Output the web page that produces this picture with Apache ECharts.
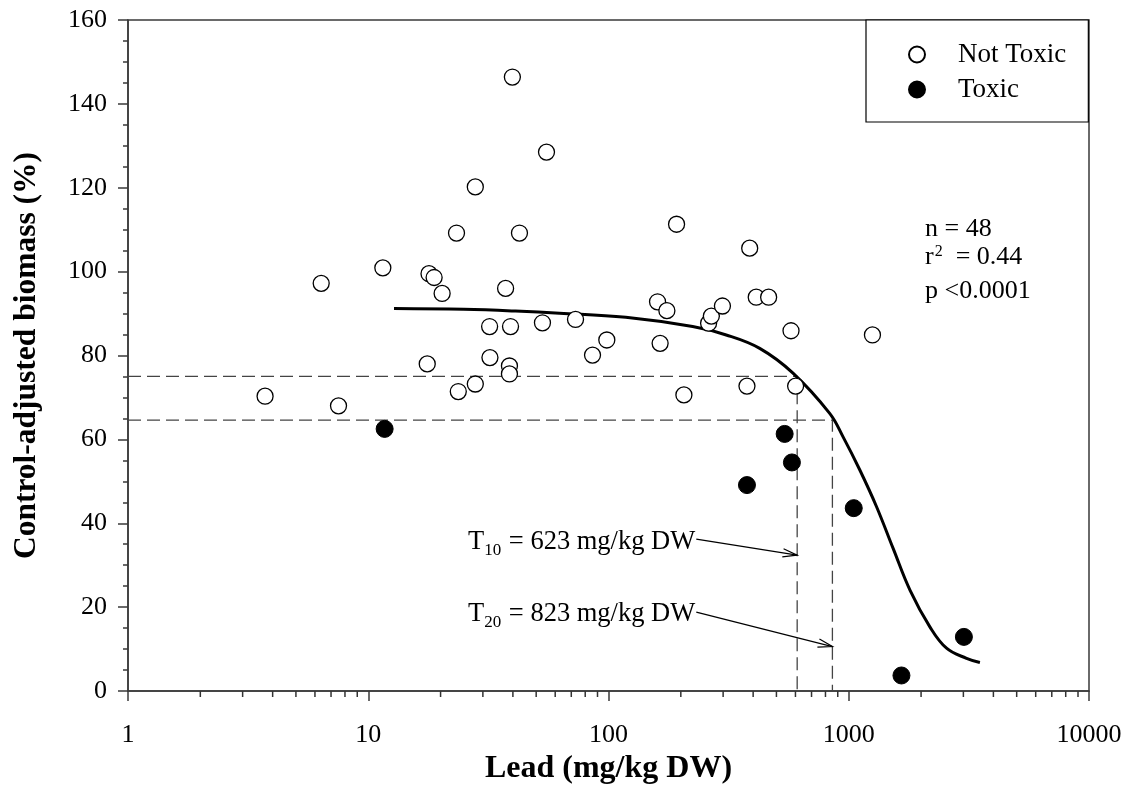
<!DOCTYPE html>
<html>
<head>
<meta charset="utf-8">
<script src="https://cdn.jsdelivr.net/npm/echarts@6/dist/echarts.min.js"></script>
<style>html,body{margin:0;padding:0;background:#fff;}#c{width:1128px;height:809px;}</style>
</head>
<body>
<div id="c"></div>
<script>
// ---- data ----
const notToxic = [
  [3.72,70.3],[6.37,97.2],[7.52,68.0],[11.5,100.9],[17.6,78.0],[17.9,99.5],[18.8,98.6],
  [20.3,94.8],[23.3,109.2],[23.7,71.4],[27.9,120.2],[27.9,73.2],[32.0,86.9],[32.1,79.5],
  [37.3,96.0],[38.7,77.5],[38.7,75.6],[39.1,86.9],[39.8,146.4],[42.6,109.2],[53.1,87.8],
  [55.2,128.5],[72.9,88.6],[85.8,80.1],[98.4,83.7],[160,92.8],[164,82.9],[175,90.7],
  [192,111.3],[206,70.6],[261,87.7],[268,89.4],[298,91.8],[377,72.7],[387,105.6],
  [412,93.9],[464,93.9],[575,85.9],[601,72.7],[1255,84.9]
];
const toxic = [
  [11.7,62.5],[377,49.1],[541,61.3],[580,54.5],[1049,43.6],[1657,3.7],[3015,12.9]
];
const fitCurve = [
  [12.8,91.2],[25,91.0],[41,90.6],[62.5,90.1],[118,89.1],[224,86.9],[309,84.9],[426,81.7],
  [586,75.8],[833,66.2],[947,60.6],[1112,52.7],[1304,44.0],[1530,34.0],[1800,24.0],
  [2176,15.3],[2553,10.2],[3092,7.8],[3515,6.8]
];
const t10Guide = [[1,75.0],[610,75.0],[610,0]];
const t20Guide = [[1,64.6],[855,64.6],[855,0]];
// arrows: [fromX, fromY, toX, toY]
const arrows = [[232,36.2,610,32.4],[232,18.8,855,10.6]];
const xTickLabels = ['1','10','100','1000','10000'];
const yTicks = [0,20,40,60,80,100,120,140,160];
const stats = ['n = 48','r2 = 0.44','p <0.0001'];

const minorXTicks = [];
for (let d = 1; d < 10000; d *= 10) for (let k = 2; k <= 9; k++) minorXTicks.push([d * k]);

const FONT = '"Liberation Serif", "DejaVu Serif", serif';
const chart = echarts.init(document.getElementById('c'), null, {renderer: 'canvas'});

function arrowItem(params, api) {
  const p0 = api.coord([api.value(0), api.value(1)]);
  const p1 = api.coord([api.value(2), api.value(3)]);
  const ang = Math.atan2(p1[1] - p0[1], p1[0] - p0[0]);
  const L = 15, a = 0.28;
  const h1 = [p1[0] - L * Math.cos(ang - a), p1[1] - L * Math.sin(ang - a)];
  const h2 = [p1[0] - L * Math.cos(ang + a), p1[1] - L * Math.sin(ang + a)];
  return {type: 'group', children: [
    {type: 'line', shape: {x1: p0[0], y1: p0[1], x2: p1[0], y2: p1[1]}, style: {stroke: '#000', lineWidth: 1.2}},
    {type: 'polyline', shape: {points: [h1, p1, h2]}, style: {stroke: '#000', lineWidth: 1.2, fill: null}}
  ]};
}
function minorTickItem(params, api) {
  const p = api.coord([api.value(0), 0]);
  return {type: 'line', shape: {x1: p[0], y1: p[1], x2: p[0], y2: p[1] + 6}, style: {stroke: '#333', lineWidth: 1.5}};
}

const option = {
  backgroundColor: '#fff',
  animation: false,
  grid: {left: 128, right: 39, top: 20, bottom: 118, show: true, borderColor: '#3a3a3a', borderWidth: 1.5, backgroundColor: 'transparent'},
  xAxis: {
    type: 'log', logBase: 10, min: 1, max: 10000,
    name: 'Lead (mg/kg DW)', nameLocation: 'middle', nameGap: 62,
    nameTextStyle: {fontFamily: FONT, fontSize: 32, fontWeight: 'bold', color: '#000'},
    axisLine: {show: true, onZero: false, lineStyle: {color: '#3a3a3a', width: 1.5}},
    axisTick: {show: true, length: 10, lineStyle: {color: '#3a3a3a', width: 1.5}},
    axisLabel: {fontFamily: FONT, fontSize: 26, color: '#000', margin: 31,
      formatter: v => xTickLabels[Math.round(Math.log10(v))] || ''},
    splitLine: {show: false}
  },
  yAxis: {
    type: 'value', min: 0, max: 160, interval: 20,
    name: 'Control-adjusted biomass (%)', nameLocation: 'middle', nameGap: 85,
    nameTextStyle: {fontFamily: FONT, fontSize: 31.5, fontWeight: 'bold', color: '#000'},
    axisLine: {show: true, onZero: false, lineStyle: {color: '#3a3a3a', width: 1.5}},
    axisTick: {show: true, length: 10, lineStyle: {color: '#3a3a3a', width: 1.5}},
    minorTick: {show: true, splitNumber: 4, length: 5, lineStyle: {color: '#3a3a3a', width: 1.5}},
    axisLabel: {fontFamily: FONT, fontSize: 26, color: '#000', margin: 21,
      formatter: v => yTicks.indexOf(v) >= 0 ? String(v) : ''},
    splitLine: {show: false}
  },
  legend: {
    left: 866, top: 20, orient: 'vertical',
    padding: [21, 22, 19, 42], itemGap: 8, itemWidth: 16, itemHeight: 16,
    borderColor: '#000', borderWidth: 1.2, backgroundColor: '#fff', borderRadius: 0,
    textStyle: {fontFamily: FONT, fontSize: 27, color: '#000', padding: [0, 0, 0, 28]},
    data: [{name: 'Not Toxic', icon: 'circle'}, {name: 'Toxic', icon: 'circle'}]
  },
  series: [
    {type: 'line', name: 'T10 guide', data: t10Guide, symbol: 'none', silent: true,
      lineStyle: {color: '#444', width: 1.3, type: [13, 6]}, z: 1},
    {type: 'line', name: 'T20 guide', data: t20Guide, symbol: 'none', silent: true,
      lineStyle: {color: '#444', width: 1.3, type: [13, 6]}, z: 1},
    {type: 'line', name: 'Fit', data: fitCurve, symbol: 'none', smooth: 0.4, silent: true,
      lineStyle: {color: '#000', width: 3}, z: 3},
    {type: 'scatter', name: 'Not Toxic', data: notToxic, symbol: 'circle', symbolSize: 16,
      itemStyle: {color: '#fff', borderColor: '#000', borderWidth: 1.3, opacity: 1}, z: 4},
    {type: 'scatter', name: 'Toxic', data: toxic, symbol: 'circle', symbolSize: 17,
      itemStyle: {color: '#000', borderColor: '#000', borderWidth: 1, opacity: 1}, z: 5},
    {type: 'custom', name: 'arrows', data: arrows, renderItem: arrowItem, silent: true, z: 6},
    {type: 'custom', name: 'minorX', data: minorXTicks, renderItem: minorTickItem, silent: true, clip: false, z: 6}
  ],
  graphic: [
    {type: 'text', left: 925, top: 216, style: {text: stats[0], font: '26px ' + FONT, fill: '#000'}},
    {type: 'text', left: 925, top: 244, style: {text: '{t|r}{s|2}{t|  = 0.44}', fill: '#000',
      rich: {t: {fontFamily: FONT, fontSize: 26, verticalAlign: 'bottom'}, s: {fontFamily: FONT, fontSize: 16, verticalAlign: 'top', padding: [0, 0, 10, 1]}}}},
    {type: 'text', left: 925, top: 278, style: {text: stats[2], font: '26px ' + FONT, fill: '#000'}},
    {type: 'text', left: 468, top: 529, style: {text: '{t|T}{s|10}{t| = 623 mg/kg DW}', fill: '#000',
      rich: {t: {fontFamily: FONT, fontSize: 26.5, verticalAlign: 'top'}, s: {fontFamily: FONT, fontSize: 17, verticalAlign: 'bottom', padding: [13, 1, 0, 0]}}}},
    {type: 'text', left: 468, top: 601, style: {text: '{t|T}{s|20}{t| = 823 mg/kg DW}', fill: '#000',
      rich: {t: {fontFamily: FONT, fontSize: 26.5, verticalAlign: 'top'}, s: {fontFamily: FONT, fontSize: 17, verticalAlign: 'bottom', padding: [13, 1, 0, 0]}}}}
  ]
};
chart.setOption(option);
</script>
</body>
</html>
